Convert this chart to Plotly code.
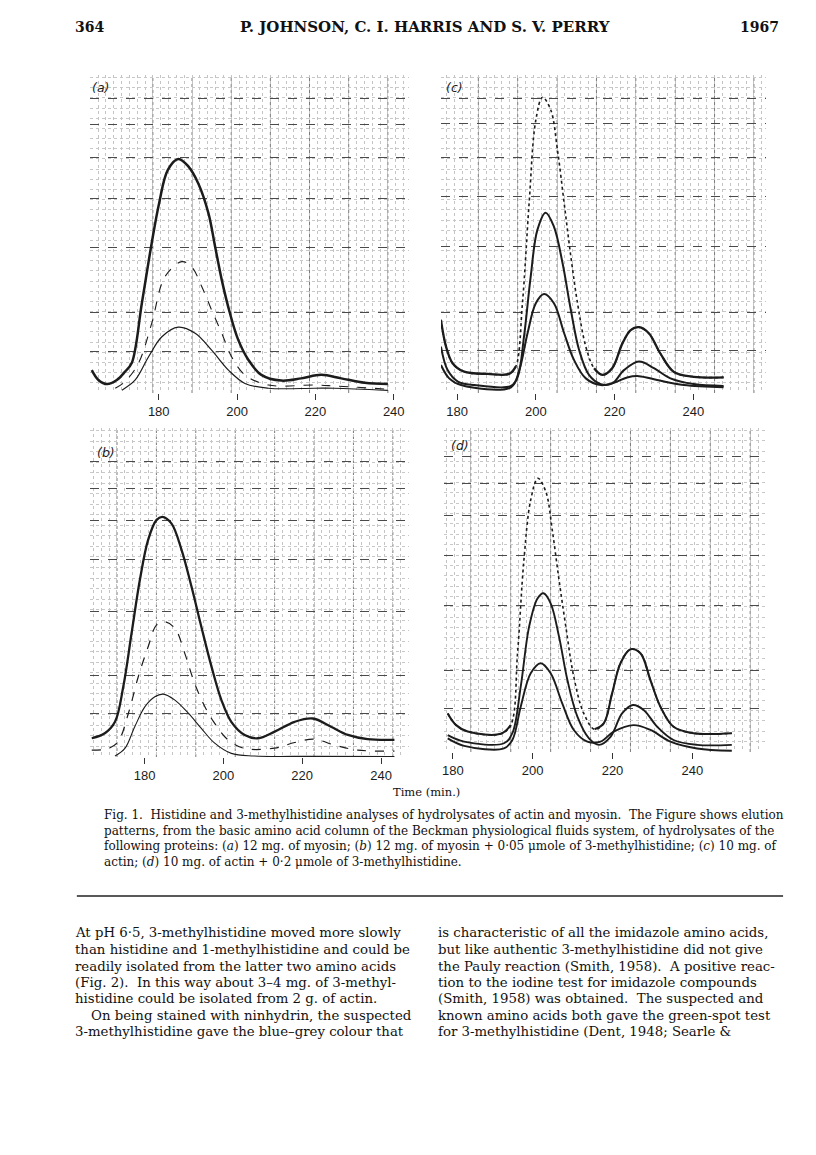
import plotly.graph_objects as go

# page is rendered with an 8px body margin; figure coordinates are page px - 8
OFF = 8
W, H = 808, 1147

def fx(p):
    return (p - OFF) / W

def fy(p):
    return 1 - (p - OFF) / H

# ---------------- data ----------------
# Panel (a): 12 mg myosin
a1_x = [162.9, 164.6, 166.8, 169.3, 171.4, 173.1, 175.7, 178.2, 180.1, 182.3, 185.0, 187.6, 190.1, 192.7, 194.4, 196.1, 198.2, 200.3, 202.9, 206.2, 211.3, 216.4, 221.5, 226.6, 232.6, 238.5]
a1_y = [7.2, 4.1, 2.8, 4.1, 6.7, 9.4, 28.3, 47.1, 59.7, 70.1, 73.6, 71.2, 65.9, 56.5, 46.0, 35.5, 25.0, 16.7, 10.4, 5.7, 3.9, 4.6, 5.7, 4.6, 3.2, 2.8]
a2_x = [168.9, 171.4, 174.8, 178.2, 181.6, 185.9, 188.4, 191.0, 193.5, 196.1, 198.6, 202.0, 208.0, 219.8, 224.9, 238.5]
a2_y = [1.5, 3.6, 9.3, 21.9, 36.6, 41.3, 39.7, 33.4, 26.1, 18.8, 11.4, 5.7, 2.5, 2.5, 2.2, 1.2]
a3_x = [170.6, 174.0, 177.4, 180.8, 185.0, 189.3, 193.5, 197.8, 202.0, 208.0, 219.8, 224.9, 238.5]
a3_y = [0.9, 4.1, 11.4, 17.7, 20.7, 18.8, 13.5, 7.2, 3.0, 1.5, 1.5, 1.5, 0.8]

# Panel (b): 12 mg myosin + 0.05 umole 3-methylhistidine
b1_x = [166.6, 169.9, 172.5, 174.6, 176.7, 178.8, 180.9, 183.0, 184.5, 186.8, 189.4, 191.9, 194.4, 197.0, 199.5, 202.0, 205.4, 208.8, 213.0, 218.1, 222.7, 227.3, 231.6, 236.6, 243.4]
b1_y = [5.7, 7.2, 10.7, 21.4, 37.6, 53.8, 66.0, 72.0, 73.0, 71.0, 62.9, 51.8, 39.6, 27.4, 17.3, 10.7, 6.7, 5.7, 7.7, 10.7, 11.7, 9.2, 6.7, 5.4, 5.2]
b2_x = [166.6, 170.8, 173.3, 175.9, 178.4, 180.9, 183.0, 185.1, 187.7, 190.2, 192.7, 195.3, 197.8, 201.2, 205.4, 213.0, 218.1, 223.1, 228.2, 234.1, 243.4]
b2_y = [2.1, 2.6, 4.7, 13.3, 24.4, 33.5, 40.1, 41.1, 39.1, 31.5, 22.4, 15.3, 10.2, 5.2, 2.6, 2.7, 4.4, 5.4, 3.6, 2.1, 1.8]
b3_x = [172.5, 175.0, 177.5, 180.1, 182.6, 184.7, 187.7, 191.1, 194.4, 197.8, 202.0, 207.9, 223.1, 243.4]
b3_y = [0.3, 2.6, 9.2, 15.3, 18.3, 19.1, 17.3, 13.3, 8.7, 4.2, 1.1, 0.3, 0.2, 0.1]

# Panel (c): 10 mg actin
c1_x = [175.9, 177.2, 178.9, 181.8, 187.8, 193.2, 194.9, 196.6, 198.3, 200.0, 201.7, 203.8, 205.5, 207.2, 208.9, 210.6, 212.7, 214.8, 216.9, 219.4, 222.0, 224.1, 226.2, 228.7, 231.6, 235.0, 240.1, 247.7]
c1_y = [23.0, 14.6, 9.3, 6.7, 6.0, 6.0, 8.3, 28.2, 59.7, 85.8, 93.0, 89.0, 76.4, 59.7, 42.9, 28.2, 14.6, 7.8, 5.7, 7.8, 15.6, 19.8, 20.7, 18.8, 12.5, 6.7, 5.1, 4.9]
c2_x = [175.9, 177.6, 180.2, 184.4, 193.7, 195.4, 197.0, 198.7, 200.4, 202.5, 204.6, 206.8, 208.9, 211.0, 213.5, 216.5, 219.4, 222.4, 226.2, 230.0, 234.2, 240.1, 247.7]
c2_y = [14.6, 7.2, 3.6, 2.5, 2.2, 5.1, 17.7, 36.6, 51.3, 56.7, 52.3, 40.8, 26.1, 13.5, 5.7, 2.8, 3.0, 7.2, 9.9, 7.8, 4.6, 2.8, 2.2]
c3_x = [175.9, 178.0, 181.0, 193.7, 195.8, 197.9, 200.0, 202.1, 204.6, 207.2, 209.7, 212.7, 216.5, 219.8, 223.2, 226.2, 230.8, 237.6, 247.7]
c3_y = [8.8, 4.6, 2.5, 1.8, 7.2, 18.8, 28.2, 31.1, 28.2, 18.8, 10.4, 4.6, 2.5, 3.2, 4.9, 5.3, 4.1, 2.5, 1.8]

# Panel (d): 10 mg actin + 0.2 umole 3-methylhistidine
d1_x = [178.7, 180.8, 183.7, 192.0, 194.5, 196.2, 197.8, 199.5, 201.3, 203.3, 204.9, 206.6, 208.3, 210.3, 212.8, 215.5, 217.8, 219.9, 222.0, 224.5, 227.0, 229.5, 232.0, 235.3, 240.3, 249.9]
d1_y = [11.9, 8.3, 6.3, 5.6, 8.3, 30.5, 59.3, 77.8, 84.5, 80.3, 68.5, 53.1, 38.7, 23.2, 11.9, 7.0, 8.8, 18.1, 27.4, 31.7, 30.5, 22.2, 14.0, 7.8, 5.8, 5.8]
d2_x = [178.7, 182.8, 192.8, 194.9, 197.0, 199.1, 201.2, 202.7, 204.5, 206.6, 208.7, 211.2, 214.1, 216.6, 219.5, 222.4, 225.1, 227.8, 231.2, 235.3, 241.2, 249.9]
d2_y = [5.2, 3.2, 2.7, 5.8, 20.2, 38.7, 47.4, 49.0, 45.9, 35.6, 22.2, 10.9, 4.2, 2.2, 4.7, 11.9, 14.5, 13.0, 7.8, 3.7, 2.2, 2.2]
d3_x = [178.7, 182.8, 192.8, 194.9, 197.0, 199.5, 202.0, 204.5, 207.4, 210.3, 213.7, 217.0, 220.3, 225.3, 229.5, 234.5, 241.2, 249.9]
d3_y = [4.2, 1.9, 1.1, 3.7, 14.0, 24.3, 27.4, 24.3, 15.0, 6.8, 3.2, 3.2, 6.3, 8.3, 6.8, 3.2, 1.1, 0.4]

tick_vals = [180, 200, 220, 240]
tick_text = ["180", "200", "220", "240"]

# ---------------- panel geometry / chart-paper style ----------------
panels = [
    dict(key="a", px=(88, 408), py=(75, 393), xr=(162.4, 243.9), lab=(88, 88),
         hmaj=[0, 12.9, 25.2, 45.6, 61.3, 74.2, 84.3, 92.5], v0=178.5),
    dict(key="c", px=(440, 766), py=(75, 393), xr=(175.9, 258.5), lab=(443, 87),
         hmaj=[0, 13.5, 25.4, 46.0, 61.7, 74.1, 84.8, 92.7], v0=185.4),
    dict(key="b", px=(88, 408), py=(428, 757), xr=(166.1, 247.1), lab=(93, 452),
         hmaj=[0, 13.3, 24.9, 44.2, 59.9, 72.0, 81.7, 89.8], v0=173.0),
    dict(key="d", px=(443, 766), py=(428, 752), xr=(177.75, 258.5), lab=(448, 445),
         hmaj=[0, 13.5, 25.3, 45.1, 60.8, 73.1, 82.9, 91.1], v0=184.5),
]

curves = {
    "a": [(a1_x, a1_y, 2.5, "solid", None), (a2_x, a2_y, 1.1, "dash", None), (a3_x, a3_y, 1.2, "solid", None)],
    "b": [(b1_x, b1_y, 2.3, "solid", None), (b2_x, b2_y, 1.2, "dash", None), (b3_x, b3_y, 1.1, "solid", None)],
    "c": [(c1_x, c1_y, 2.3, "solid", (195.5, 214.0)), (c2_x, c2_y, 2.0, "solid", None), (c3_x, c3_y, 2.0, "solid", None)],
    "d": [(d1_x, d1_y, 2.1, "solid", (195.0, 214.5)), (d2_x, d2_y, 1.9, "solid", None), (d3_x, d3_y, 1.9, "solid", None)],
}

fig = go.Figure()
layout_axes = {}
shapes = []
annotations = []
INK = "#1c1c1c"

for i, p in enumerate(panels):
    n = "" if i == 0 else str(i + 1)
    xa, ya = "x" + n, "y" + n
    xdom = [fx(p["px"][0]), fx(p["px"][1])]
    ydom = [fy(p["py"][1]), fy(p["py"][0])]
    layout_axes["xaxis" + n] = dict(
        domain=xdom, range=list(p["xr"]), anchor=ya, tickmode="array",
        tickvals=tick_vals, ticktext=tick_text, ticks="outside", ticklen=6,
        tickwidth=1.2, tickcolor="#333", showgrid=False, zeroline=False,
        showline=False, tickfont=dict(family="Liberation Sans", size=13, color=INK),
        minor=dict(tick0=p["v0"], dtick=2, showgrid=True, gridcolor="#c4c4c4",
                   griddash="dot", gridwidth=0.8),
        fixedrange=True,
    )
    layout_axes["yaxis" + n] = dict(
        domain=ydom, range=[0, 100], anchor=xa, tickmode="array",
        tickvals=p["hmaj"], showticklabels=False, ticks="", showgrid=True,
        gridcolor="#4a4a4a", griddash="dash", gridwidth=1.4, zeroline=False,
        showline=False,
        minor=dict(tick0=0, dtick=3.2, showgrid=True, gridcolor="#c8c8c8",
                   griddash="dot", gridwidth=0.8),
        fixedrange=True,
    )
    # heavier 10-minute verticals of the chart paper
    v = p["v0"]
    while v < p["xr"][1]:
        if v > p["xr"][0]:
            shapes.append(dict(type="line", xref=xa, yref=ya + " domain", x0=v, x1=v,
                               y0=0, y1=1, line=dict(color="#7a7a7a", width=1, dash="dot"),
                               layer="below"))
        v += 10
    # panel label
    annotations.append(dict(text="<i>(%s)</i>" % p["key"], xref="paper", yref="paper",
                            x=fx(p["lab"][0]), y=fy(p["lab"][1]), xanchor="left",
                            yanchor="middle", showarrow=False,
                            font=dict(family="DejaVu Sans", size=12.5, color=INK)))
    # curves
    for cx, cy, lw, dash, dotted in curves[p["key"]]:
        if dotted is None:
            fig.add_trace(go.Scatter(x=cx, y=cy, mode="lines", xaxis=xa, yaxis=ya,
                                     line=dict(color=INK, width=lw, dash=dash,
                                               shape="spline", smoothing=1.0),
                                     showlegend=False, hoverinfo="skip"))
        else:
            lo, hi = dotted
            fig.add_trace(go.Scatter(x=cx, y=cy, mode="lines", xaxis=xa, yaxis=ya,
                                     line=dict(color=INK, width=1.6, dash="dot",
                                               shape="spline", smoothing=1.0),
                                     showlegend=False, hoverinfo="skip"))
            sy = [yy if (xx <= lo or xx >= hi) else None for xx, yy in zip(cx, cy)]
            fig.add_trace(go.Scatter(x=cx, y=sy, mode="lines", xaxis=xa, yaxis=ya,
                                     connectgaps=False,
                                     line=dict(color=INK, width=lw, shape="spline",
                                               smoothing=1.0),
                                     showlegend=False, hoverinfo="skip"))

# ---------------- page text ----------------
SERIF = "DejaVu Serif"

def txt(s, x, y, size, anchor="left", family=SERIF, bold=False):
    annotations.append(dict(text=("<b>%s</b>" % s) if bold else s, xref="paper",
                            yref="paper", x=fx(x), y=fy(y), xanchor=anchor,
                            yanchor="middle", showarrow=False,
                            font=dict(family=family, size=size, color="#111")))

txt("364", 71, 27, 14, bold=True)
txt("P. JOHNSON, C. I. HARRIS AND S. V. PERRY", 424, 27, 15, anchor="center", bold=True)
txt("1967", 781, 27, 14, anchor="right", bold=True)

txt("Time (min.)", 426, 792, 11.5, anchor="center")

caption = [
    "Fig. 1.  Histidine and 3-methylhistidine analyses of hydrolysates of actin and myosin.  The Figure shows elution",
    "patterns, from the basic amino acid column of the Beckman physiological fluids system, of hydrolysates of the",
    "following proteins: (<i>a</i>) 12 mg. of myosin; (<i>b</i>) 12 mg. of myosin + 0·05 μmole of 3-methylhistidine; (<i>c</i>) 10 mg. of",
    "actin; (<i>d</i>) 10 mg. of actin + 0·2 μmole of 3-methylhistidine.",
]
for k, line in enumerate(caption):
    txt(line, 100, 815 + k * 15.7, 12)

shapes.append(dict(type="line", xref="paper", yref="paper", x0=fx(75), x1=fx(783),
                   y0=fy(896), y1=fy(896), line=dict(color="#222", width=1.6)))

left_col = [
    "At pH 6·5, 3-methylhistidine moved more slowly",
    "than histidine and 1-methylhistidine and could be",
    "readily isolated from the latter two amino acids",
    "(Fig. 2).  In this way about 3–4 mg. of 3-methyl-",
    "histidine could be isolated from 2 g. of actin.",
    "On being stained with ninhydrin, the suspected",
    "3-methylhistidine gave the blue–grey colour that",
]
right_col = [
    "is characteristic of all the imidazole amino acids,",
    "but like authentic 3-methylhistidine did not give",
    "the Pauly reaction (Smith, 1958).  A positive reac-",
    "tion to the iodine test for imidazole compounds",
    "(Smith, 1958) was obtained.  The suspected and",
    "known amino acids both gave the green-spot test",
    "for 3-methylhistidine (Dent, 1948; Searle &",
]
body_y = [933, 949, 966, 982, 998, 1015, 1031]
for k, line in enumerate(left_col):
    txt(line, 87 if k == 5 else 71, body_y[k], 13.3)
for k, line in enumerate(right_col):
    txt(line, 435, body_y[k], 13.3)

fig.update_layout(
    width=W, height=H, margin=dict(l=0, r=0, t=0, b=0),
    paper_bgcolor="white", plot_bgcolor="white", showlegend=False,
    shapes=shapes, annotations=annotations, **layout_axes,
)

fig.write_html("out.html", config={"displayModeBar": False})
